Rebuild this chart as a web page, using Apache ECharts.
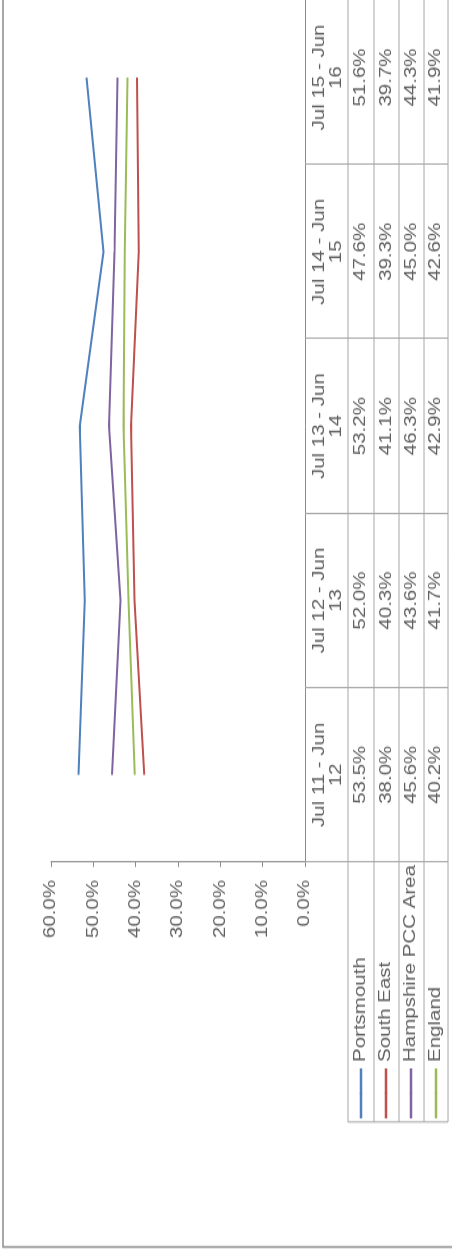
<!DOCTYPE html>
<html>
<head>
<meta charset="utf-8">
<script src="https://cdn.jsdelivr.net/npm/echarts@6/dist/echarts.min.js"></script>
<style>
html, body { margin: 0; padding: 0; width: 452px; height: 1254px; overflow: hidden; background: #fff; }
/* the source picture is an Excel chart turned on its side (and a bit stretched),
   so the chart is drawn upright and the container is rotated */
#chart {
    position: absolute; left: 0; top: 0;
    width: 988px; height: 452px;
    transform-origin: 0 0;
    transform: translate(0, 1254px) rotate(-90deg) scale(1.28, 1);
}
</style>
</head>
<body>
<div id="chart"></div>
<script>
var categories = ['Jul 11 - Jun 12', 'Jul 12 - Jun 13', 'Jul 13 - Jun 14', 'Jul 14 - Jun 15', 'Jul 15 - Jun 16'];
var seriesNames = ['Portsmouth', 'South East', 'Hampshire PCC Area', 'England'];
var portsmouth = [53.5, 52.0, 53.2, 47.6, 51.6];
var southEast = [38.0, 40.3, 41.1, 39.3, 39.7];
var hampshire = [45.6, 43.6, 46.3, 45.0, 44.3];
var england = [40.2, 41.7, 42.9, 42.6, 41.9];
var valueTicks = [0, 10, 20, 30, 40, 50, 60];

var rows = [portsmouth, southEast, hampshire, england];
var colors = ['#4f81bd', '#c0504d', '#8064a2', '#9bbb59'];

// horizontal stretch of the container, x positions are given in picture pixels
var S = 1.28;
function ux(u) { return u / S; }

var font = 'Liberation Sans';
var textColor = '#5f5f5f';
var axisGray = '#8c8c8c';
var tableGray = '#a6a6a6';
var axisY = 305;                          // pixel row of the 0% line
var rowLines = [348, 374, 399, 424, 448]; // data table row borders

var myChart = echarts.init(document.getElementById('chart'));

var xAxes = [{
    type: 'category',
    data: categories,
    position: 'bottom',
    axisLine: { lineStyle: { color: axisGray } },
    axisTick: { show: true, length: rowLines[rowLines.length - 1] - axisY, lineStyle: { color: tableGray } },
    axisLabel: {
        interval: 0,
        margin: 23.5,
        verticalAlign: 'middle',
        color: textColor,
        fontFamily: font,
        fontSize: 16,
        lineHeight: 17,
        formatter: function (v) { return v.replace(/ (\d+)$/, '\n$1'); }
    },
    splitLine: { show: false }
}];

rows.forEach(function (vals, i) {
    xAxes.push({
        type: 'category',
        data: categories,
        position: 'bottom',
        gridIndex: 0,
        axisLine: { show: false, onZero: false },
        axisTick: { show: false },
        splitLine: { show: false },
        axisLabel: {
            interval: 0,
            margin: (rowLines[i] + rowLines[i + 1]) / 2 - axisY,
            verticalAlign: 'middle',
            color: textColor,
            fontFamily: font,
            fontSize: 16,
            formatter: function (v, idx) { return vals[idx].toFixed(1) + '%'; }
        }
    });
});

var graphics = [{
    type: 'rect',
    silent: true,
    z: -10,
    shape: { x: ux(7), y: 3, width: 3000, height: 1000 },
    style: { fill: 'none', stroke: axisGray, lineWidth: 1.5 }
}];
rowLines.forEach(function (v) {
    graphics.push({
        type: 'line',
        silent: true,
        shape: { x1: ux(132), y1: v, x2: ux(1263), y2: v },
        style: { stroke: tableGray, lineWidth: 1 }
    });
});
graphics.push({
    type: 'line',
    silent: true,
    shape: { x1: ux(132), y1: rowLines[0], x2: ux(132), y2: rowLines[rowLines.length - 1] },
    style: { stroke: tableGray, lineWidth: 1 }
});

option = {
    animation: false,
    backgroundColor: '#fff',
    grid: {
        left: ux(392),
        right: ux(1264 - 1263),
        top: 51,
        bottom: 452 - axisY,
        containLabel: false,
        outerBoundsMode: 'none'
    },
    legend: {
        orient: 'vertical',
        left: ux(134),
        top: 348.5,
        padding: 0,
        itemGap: 0,
        itemWidth: ux(50),
        itemHeight: 3,
        selectedMode: false,
        data: seriesNames,
        lineStyle: { width: 2.5 },
        textStyle: { color: textColor, fontFamily: font, fontSize: 16, lineHeight: 25 }
    },
    xAxis: xAxes,
    yAxis: {
        type: 'value',
        min: valueTicks[0],
        max: valueTicks[valueTicks.length - 1],
        interval: valueTicks[1] - valueTicks[0],
        splitLine: { show: false },
        axisLine: { show: true, lineStyle: { color: axisGray } },
        axisTick: { show: true, length: ux(5), lineStyle: { color: axisGray } },
        axisLabel: {
            margin: ux(18),
            color: textColor,
            fontFamily: font,
            fontSize: 16,
            formatter: function (v) { return v.toFixed(1) + '%'; }
        }
    },
    graphic: graphics,
    series: rows.map(function (vals, i) {
        return {
            name: seriesNames[i],
            type: 'line',
            data: vals,
            symbol: 'none',
            lineStyle: { width: 2, color: colors[i] },
            itemStyle: { color: colors[i] }
        };
    })
};

if (option && typeof option === "object") {
    myChart.setOption(option, true);
}
</script>
</body>
</html>
